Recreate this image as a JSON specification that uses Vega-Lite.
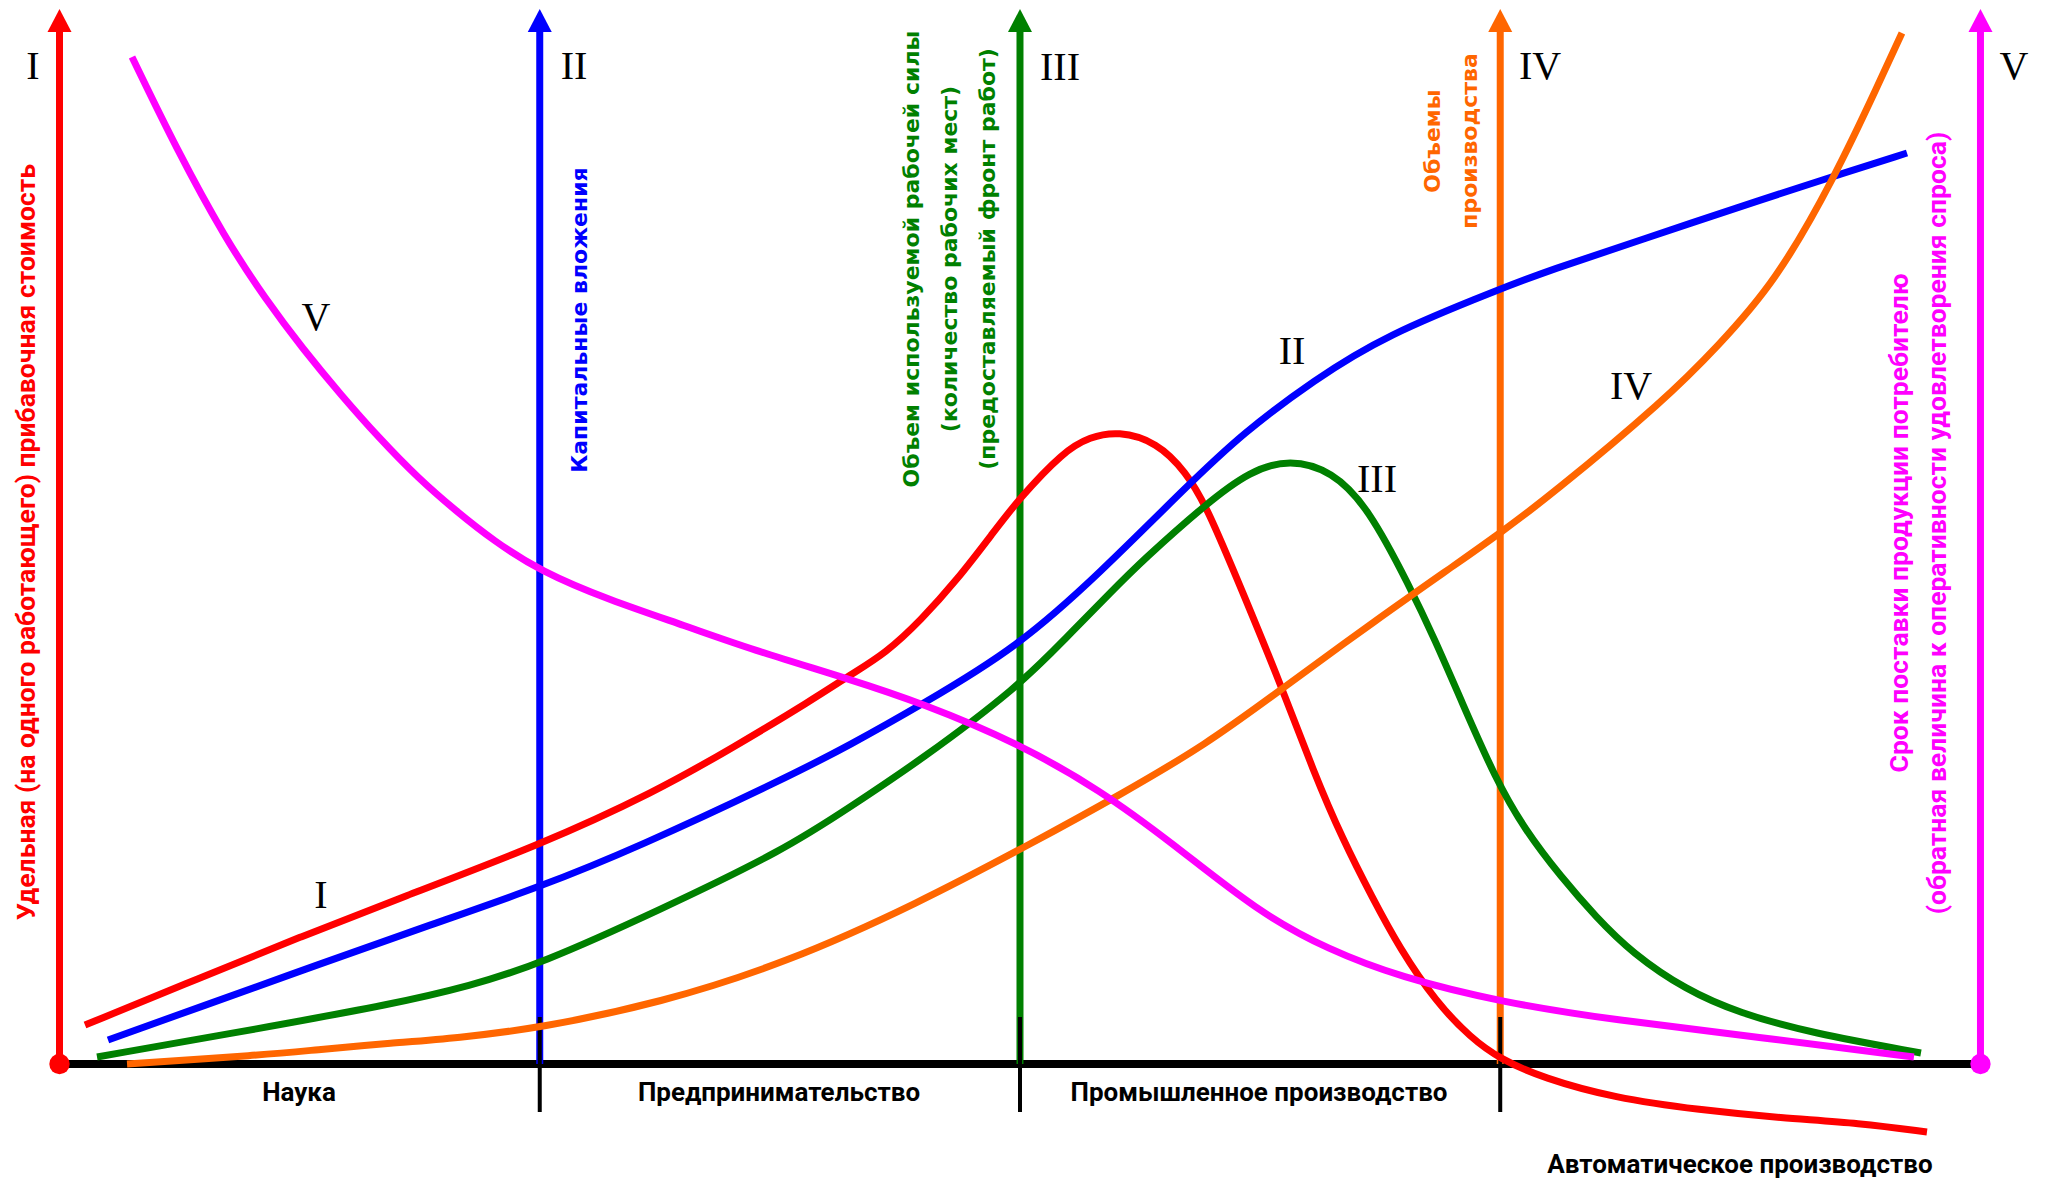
{
  "$schema": "https://vega.github.io/schema/vega-lite/v6.json",
  "width": 2054,
  "height": 1183,
  "autosize": {"type": "fit", "contains": "padding"},
  "padding": 0,
  "background": "white",
  "config": {"view": {"stroke": null}},
  "datasets": {
    "base": [{"x": 0, "x2": 400, "y": 0}],
    "axes": [
      {"series": "I", "x": 0, "lo": 0, "hi": 103.4, "tip": 104.35},
      {"series": "II", "x": 100, "lo": 0, "hi": 103.4, "tip": 104.35},
      {"series": "III", "x": 200, "lo": 0, "hi": 103.4, "tip": 104.35},
      {"series": "IV", "x": 300, "lo": 0, "hi": 103.4, "tip": 104.35},
      {"series": "V", "x": 400, "lo": 0, "hi": 103.4, "tip": 104.35}
    ],
    "ticks": [
      {"x": 100, "lo": -4.8, "hi": 4.7},
      {"x": 200, "lo": -4.8, "hi": 4.7},
      {"x": 300, "lo": -4.8, "hi": 4.7}
    ],
    "curves": [
      {"series": "I", "x": 5.31, "y": 3.9}, {"series": "I", "x": 29.26, "y": 8.6}, {"series": "I", "x": 50.08, "y": 12.7}, {"series": "I", "x": 70.9, "y": 16.6}, {"series": "I", "x": 100.05, "y": 21.9}, {"series": "I", "x": 124.0, "y": 27.2}, {"series": "I", "x": 140.45, "y": 31.7}, {"series": "I", "x": 156.69, "y": 36.4}, {"series": "I", "x": 164.6, "y": 38.9}, {"series": "I", "x": 172.1, "y": 41.1}, {"series": "I", "x": 179.39, "y": 44.4}, {"series": "I", "x": 186.88, "y": 48.4}, {"series": "I", "x": 194.38, "y": 53.1}, {"series": "I", "x": 199.58, "y": 56.4}, {"series": "I", "x": 209.16, "y": 61.3}, {"series": "I", "x": 214.58, "y": 62.7}, {"series": "I", "x": 220.41, "y": 63.3}, {"series": "I", "x": 228.53, "y": 62.2}, {"series": "I", "x": 234.57, "y": 59.2}, {"series": "I", "x": 238.94, "y": 55.7}, {"series": "I", "x": 246.43, "y": 47.1}, {"series": "I", "x": 253.93, "y": 38.4}, {"series": "I", "x": 261.22, "y": 29.1}, {"series": "I", "x": 267.26, "y": 22.4}, {"series": "I", "x": 273.29, "y": 16.7}, {"series": "I", "x": 279.13, "y": 11.5}, {"series": "I", "x": 286.62, "y": 6.2}, {"series": "I", "x": 293.91, "y": 2.6}, {"series": "I", "x": 299.95, "y": 0.5}, {"series": "I", "x": 308.9, "y": -1.4}, {"series": "I", "x": 323.69, "y": -3.4}, {"series": "I", "x": 341.59, "y": -4.6}, {"series": "I", "x": 358.46, "y": -5.4}, {"series": "I", "x": 374.91, "y": -5.9}, {"series": "I", "x": 388.86, "y": -6.8},
      {"series": "II", "x": 10.1, "y": 2.4}, {"series": "II", "x": 29.26, "y": 5.7}, {"series": "II", "x": 54.24, "y": 10.0}, {"series": "II", "x": 77.15, "y": 13.9}, {"series": "II", "x": 100.05, "y": 17.7}, {"series": "II", "x": 120.04, "y": 21.6}, {"series": "II", "x": 151.28, "y": 28.6}, {"series": "II", "x": 164.6, "y": 31.9}, {"series": "II", "x": 179.39, "y": 35.9}, {"series": "II", "x": 199.58, "y": 41.7}, {"series": "II", "x": 216.65, "y": 49.1}, {"series": "II", "x": 234.57, "y": 57.7}, {"series": "II", "x": 246.43, "y": 63.1}, {"series": "II", "x": 261.22, "y": 68.4}, {"series": "II", "x": 276.21, "y": 72.9}, {"series": "II", "x": 299.95, "y": 77.5}, {"series": "II", "x": 310.36, "y": 79.4}, {"series": "II", "x": 328.68, "y": 82.3}, {"series": "II", "x": 355.96, "y": 86.7}, {"series": "II", "x": 369.7, "y": 88.8}, {"series": "II", "x": 384.7, "y": 91.1},
      {"series": "III", "x": 7.81, "y": 0.7}, {"series": "III", "x": 42.17, "y": 3.6}, {"series": "III", "x": 69.44, "y": 6.0}, {"series": "III", "x": 85.48, "y": 7.8}, {"series": "III", "x": 100.05, "y": 10.0}, {"series": "III", "x": 125.01, "y": 15.4}, {"series": "III", "x": 151.28, "y": 21.5}, {"series": "III", "x": 164.6, "y": 25.7}, {"series": "III", "x": 179.39, "y": 30.4}, {"series": "III", "x": 199.58, "y": 37.7}, {"series": "III", "x": 209.16, "y": 42.4}, {"series": "III", "x": 219.36, "y": 47.4}, {"series": "III", "x": 225.4, "y": 50.3}, {"series": "III", "x": 238.94, "y": 56.1}, {"series": "III", "x": 247.89, "y": 59.3}, {"series": "III", "x": 256.22, "y": 60.5}, {"series": "III", "x": 264.96, "y": 59.3}, {"series": "III", "x": 272.46, "y": 55.7}, {"series": "III", "x": 281.21, "y": 47.7}, {"series": "III", "x": 286.42, "y": 42.4}, {"series": "III", "x": 291.83, "y": 36.4}, {"series": "III", "x": 299.12, "y": 28.4}, {"series": "III", "x": 305.16, "y": 23.4}, {"series": "III", "x": 312.66, "y": 18.7}, {"series": "III", "x": 319.94, "y": 14.7}, {"series": "III", "x": 327.44, "y": 11.1}, {"series": "III", "x": 338.68, "y": 7.4}, {"series": "III", "x": 349.72, "y": 5.1}, {"series": "III", "x": 364.71, "y": 3.1}, {"series": "III", "x": 387.61, "y": 1.1},
      {"series": "IV", "x": 14.06, "y": 0.0}, {"series": "IV", "x": 42.17, "y": 0.9}, {"series": "IV", "x": 52.99, "y": 1.4}, {"series": "IV", "x": 69.44, "y": 2.1}, {"series": "IV", "x": 82.77, "y": 2.6}, {"series": "IV", "x": 100.05, "y": 3.6}, {"series": "IV", "x": 125.01, "y": 6.1}, {"series": "IV", "x": 151.28, "y": 10.1}, {"series": "IV", "x": 178.55, "y": 16.0}, {"series": "IV", "x": 203.33, "y": 22.3}, {"series": "IV", "x": 220.41, "y": 26.8}, {"series": "IV", "x": 238.94, "y": 32.0}, {"series": "IV", "x": 253.93, "y": 37.3}, {"series": "IV", "x": 274.13, "y": 44.4}, {"series": "IV", "x": 292.04, "y": 50.4}, {"series": "IV", "x": 299.95, "y": 53.1}, {"series": "IV", "x": 310.36, "y": 56.8}, {"series": "IV", "x": 334.72, "y": 66.6}, {"series": "IV", "x": 345.13, "y": 71.7}, {"series": "IV", "x": 357.21, "y": 78.1}, {"series": "IV", "x": 369.7, "y": 88.7}, {"series": "IV", "x": 378.87, "y": 98.1}, {"series": "IV", "x": 383.65, "y": 103.1},
      {"series": "V", "x": 15.1, "y": 100.7}, {"series": "V", "x": 24.47, "y": 91.4}, {"series": "V", "x": 34.46, "y": 82.6}, {"series": "V", "x": 43.0, "y": 76.4}, {"series": "V", "x": 50.7, "y": 71.5}, {"series": "V", "x": 58.62, "y": 66.9}, {"series": "V", "x": 66.74, "y": 62.5}, {"series": "V", "x": 74.65, "y": 58.6}, {"series": "V", "x": 82.56, "y": 55.3}, {"series": "V", "x": 90.47, "y": 52.3}, {"series": "V", "x": 100.05, "y": 49.3}, {"series": "V", "x": 114.42, "y": 46.4}, {"series": "V", "x": 130.45, "y": 43.8}, {"series": "V", "x": 143.78, "y": 41.5}, {"series": "V", "x": 165.02, "y": 38.4}, {"series": "V", "x": 179.39, "y": 36.1}, {"series": "V", "x": 199.58, "y": 32.1}, {"series": "V", "x": 216.65, "y": 27.4}, {"series": "V", "x": 231.44, "y": 22.2}, {"series": "V", "x": 249.56, "y": 15.2}, {"series": "V", "x": 264.34, "y": 11.4}, {"series": "V", "x": 279.13, "y": 8.7}, {"series": "V", "x": 299.95, "y": 6.2}, {"series": "V", "x": 323.69, "y": 4.4}, {"series": "V", "x": 353.46, "y": 2.7}, {"series": "V", "x": 386.15, "y": 0.7}
    ],
    "numerals": [
      {"t": "I", "x": -5.52, "y": 99.7}, {"t": "II", "x": 107.13, "y": 99.7}, {"t": "III", "x": 208.33, "y": 99.6}, {"t": "IV", "x": 308.28, "y": 99.7}, {"t": "V", "x": 406.98, "y": 99.7},
      {"t": "V", "x": 53.41, "y": 74.6}, {"t": "I", "x": 54.45, "y": 16.8}, {"t": "II", "x": 256.64, "y": 71.2}, {"t": "III", "x": 274.34, "y": 58.4}, {"t": "IV", "x": 327.23, "y": 67.7}
    ],
    "titles": [
      {"series": "I", "t": "Удельная (на одного работающего) прибавочная стоимость", "x": -6.77, "y": 52.2},
      {"series": "II", "t": "Капитальные вложения", "x": 108.38, "y": 74.4},
      {"series": "III", "t": "Объем используемой рабочей силы", "x": 177.51, "y": 80.5},
      {"series": "III", "t": "(количество рабочих мест)", "x": 185.42, "y": 80.5},
      {"series": "III", "t": "(предоставляемый фронт работ)", "x": 193.34, "y": 80.5},
      {"series": "IV", "t": "Объемы", "x": 286.0, "y": 92.3},
      {"series": "IV", "t": "производства", "x": 293.7, "y": 92.3},
      {"series": "V", "t": "Срок поставки продукции потребителю", "x": 383.24, "y": 54.1},
      {"series": "V", "t": "(обратная величина к оперативности удовлетворения спроса)", "x": 391.15, "y": 54.1}
    ],
    "phases": [
      {"t": "Наука", "x": 49.87, "y": -2.9},
      {"t": "Предпринимательство", "x": 149.82, "y": -2.9},
      {"t": "Промышленное производство", "x": 249.77, "y": -2.9},
      {"t": "Автоматическое производство", "x": 349.92, "y": -10.1}
    ]
  },
  "layer": [
    {
      "data": {"name": "base"},
      "mark": {"type": "rule", "color": "black", "strokeWidth": 8},
      "encoding": {
        "x": {"field": "x", "type": "quantitative", "scale": {"domain": [-12.39, 415.31], "nice": false, "zero": false}, "axis": null},
        "x2": {"field": "x2"},
        "y": {"field": "y", "type": "quantitative", "scale": {"domain": [-11.9, 106.4], "nice": false, "zero": false}, "axis": null}
      }
    },
    {
      "data": {"name": "axes"},
      "mark": {"type": "rule", "strokeWidth": 7},
      "encoding": {
        "x": {"field": "x", "type": "quantitative", "scale": {"domain": [-12.39, 415.31], "nice": false, "zero": false}, "axis": null},
        "y": {"field": "lo", "type": "quantitative", "scale": {"domain": [-11.9, 106.4], "nice": false, "zero": false}, "axis": null},
        "y2": {"field": "hi"},
        "color": {"field": "series", "type": "nominal", "scale": {"domain": ["I", "II", "III", "IV", "V"], "range": ["#ff0000", "#0000ff", "#008000", "#ff6600", "#ff00ff"]}, "legend": null}
      }
    },
    {
      "data": {"name": "axes"},
      "mark": {"type": "point", "shape": "M0,-0.96L1,0.96L-1,0.96Z", "filled": true, "opacity": 1, "size": 576, "strokeWidth": 0},
      "encoding": {
        "x": {"field": "x", "type": "quantitative", "axis": null},
        "y": {"field": "tip", "type": "quantitative", "axis": null},
        "color": {"field": "series", "type": "nominal", "legend": null}
      }
    },
    {
      "data": {"name": "ticks"},
      "mark": {"type": "rule", "color": "black", "strokeWidth": 4},
      "encoding": {
        "x": {"field": "x", "type": "quantitative", "axis": null},
        "y": {"field": "lo", "type": "quantitative", "axis": null},
        "y2": {"field": "hi"}
      }
    },
    {
      "data": {"name": "curves"},
      "mark": {"type": "line", "strokeWidth": 7, "interpolate": "basis", "strokeCap": "butt"},
      "encoding": {
        "x": {"field": "x", "type": "quantitative", "axis": null},
        "y": {"field": "y", "type": "quantitative", "axis": null},
        "color": {"field": "series", "type": "nominal", "legend": null}
      }
    },
    {
      "data": {"name": "axes"},
      "transform": [{"filter": "datum.series == 'I' || datum.series == 'V'"}],
      "mark": {"type": "point", "shape": "circle", "filled": true, "opacity": 1, "size": 415, "strokeWidth": 0},
      "encoding": {
        "x": {"field": "x", "type": "quantitative", "axis": null},
        "y": {"field": "lo", "type": "quantitative", "axis": null},
        "color": {"field": "series", "type": "nominal", "legend": null}
      }
    },
    {
      "data": {"name": "numerals"},
      "mark": {"type": "text", "font": "Liberation Serif", "fontSize": 40, "color": "black", "align": "center", "baseline": "middle"},
      "encoding": {
        "x": {"field": "x", "type": "quantitative", "axis": null},
        "y": {"field": "y", "type": "quantitative", "axis": null},
        "text": {"field": "t"}
      }
    },
    {
      "data": {"name": "titles"},
      "transform": [{"filter": "datum.series == 'I' || datum.series == 'V'"}],
      "mark": {"type": "text", "font": "Roboto", "fontWeight": "bold", "fontSize": 26.5, "angle": 270, "align": "center", "baseline": "middle"},
      "encoding": {
        "x": {"field": "x", "type": "quantitative", "axis": null},
        "y": {"field": "y", "type": "quantitative", "axis": null},
        "text": {"field": "t"},
        "color": {"field": "series", "type": "nominal", "legend": null}
      }
    },
    {
      "data": {"name": "titles"},
      "transform": [{"filter": "datum.series == 'II' || datum.series == 'III' || datum.series == 'IV'"}],
      "mark": {"type": "text", "font": "DejaVu Sans", "fontWeight": "bold", "fontSize": 22, "angle": 270, "align": "center", "baseline": "middle"},
      "encoding": {
        "x": {"field": "x", "type": "quantitative", "axis": null},
        "y": {"field": "y", "type": "quantitative", "axis": null},
        "text": {"field": "t"},
        "color": {"field": "series", "type": "nominal", "legend": null}
      }
    },
    {
      "data": {"name": "phases"},
      "mark": {"type": "text", "font": "Roboto", "fontWeight": "bold", "fontSize": 26, "color": "black", "align": "center", "baseline": "middle"},
      "encoding": {
        "x": {"field": "x", "type": "quantitative", "axis": null},
        "y": {"field": "y", "type": "quantitative", "axis": null},
        "text": {"field": "t"}
      }
    }
  ]
}
